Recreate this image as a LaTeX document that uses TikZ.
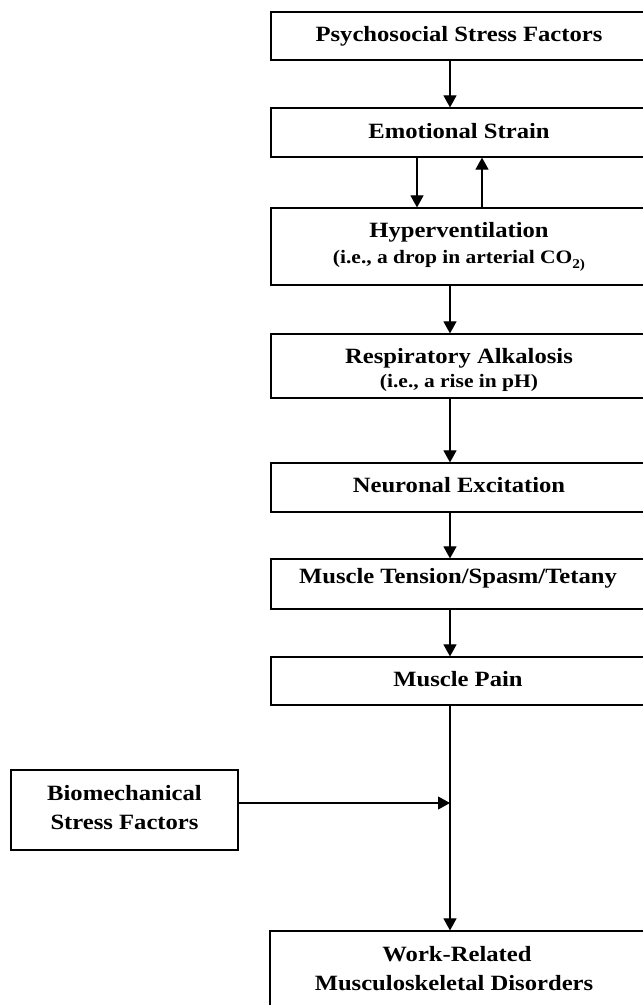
\documentclass[tikz,border=0pt]{standalone}
\usepackage{fontspec}
\setmainfont{Liberation Serif}[FakeStretch=1.13]
\usetikzlibrary{arrows.meta}
\tikzset{
  box/.style={draw=black, line width=1.2pt, inner sep=0pt, minimum width=376pt},
  lbox/.style={draw=black, line width=1.2pt, inner sep=0pt, minimum width=227pt, minimum height=80pt},
  txt/.style={inner sep=0pt, anchor=base, font=\fontsize{21.8}{26}\selectfont\bfseries},
  sub/.style={inner sep=0pt, anchor=base, font=\fontsize{19}{22}\selectfont\bfseries},
  arr/.style={line width=1.1pt, -{Triangle[width=13pt,length=12pt]}}
}
\begin{document}
\begin{tikzpicture}[x=1pt,y=-1pt]
\useasboundingbox (0,0) rectangle (643,1005);
\clip (0,0) rectangle (643,1005);
\fill[white] (0,0) rectangle (643,1005);
% helper coordinates for arrow columns
\coordinate (ax) at (450,0);
\coordinate (dx) at (417,0);
\coordinate (ux) at (482,0);
% boxes
\node[box, minimum height=48pt] (psf) at (459,36) {};
\node[box, minimum height=49pt] (emo) at (459,132.5) {};
\node[box, minimum height=77pt] (hyp) at (459,246.5) {};
\node[box, minimum height=64pt] (resp) at (459,366) {};
\node[box, minimum height=49pt] (neur) at (459,487.5) {};
\node[box, minimum height=50pt] (tens) at (459,584) {};
\node[box, minimum height=48pt] (pain) at (459,681) {};
\node[box, minimum width=377pt, minimum height=129pt] (work) at (458.5,995.5) {};
\node[lbox] (bio) at (124.5,810) {};
% texts
\node[txt] (psft) at (459,41.7) {Psychosocial Stress Factors};
\node[txt] (emot) at (459,138.3) {Emotional Strain};
\node[txt] (hypt) at (459,237.3) {Hyperventilation};
\node[sub] (hyps) at (459,263.5) {(i.e., a drop in arterial CO\raisebox{-0.28em}{\fontsize{13.5}{14}\selectfont 2)}};
\node[txt] (respt) at (459,363.3) {Respiratory Alkalosis};
\node[sub] (resps) at (459,387.7) {(i.e., a rise in pH)};
\node[txt] (neurt) at (459,492.7) {Neuronal Excitation};
\node[txt] (tenst) at (458,583.3) {Muscle Tension/Spasm/Tetany};
\node[txt] (paint) at (458,686.7) {Muscle Pain};
\node[txt] (biot1) at (124.5,800) {Biomechanical};
\node[txt] (biot2) at (124.5,829) {Stress Factors};
\node[txt] (workt1) at (457,961) {Work-Related};
\node[txt] (workt2) at (454,990) {Musculoskeletal Disorders};
% connectors
\draw[arr] (psf.south -| ax) -- (emo.north -| ax);
\draw[arr] (emo.south -| dx) -- (hyp.north -| dx);
\draw[arr] (hyp.north -| ux) -- (emo.south -| ux);
\draw[arr] (hyp.south -| ax) -- (resp.north -| ax);
\draw[arr] (resp.south -| ax) -- (neur.north -| ax);
\draw[arr] (neur.south -| ax) -- (tens.north -| ax);
\draw[arr] (tens.south -| ax) -- (pain.north -| ax);
\draw[arr] (pain.south -| ax) -- (work.north -| ax);
\draw[arr] ([yshift=7pt]bio.east) -- ([yshift=7pt]bio.east -| ax);
\end{tikzpicture}
\end{document}
